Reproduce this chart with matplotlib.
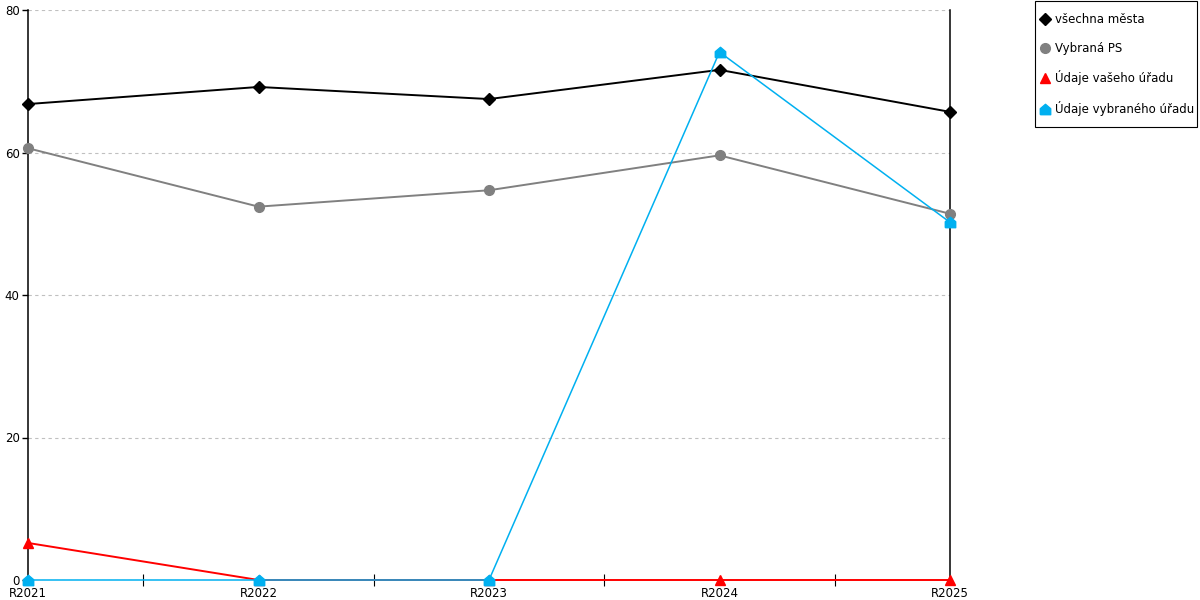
import numpy as np
import matplotlib
matplotlib.use("Agg")
import matplotlib.pyplot as plt
from matplotlib.lines import Line2D
from matplotlib.patches import Rectangle

# ---------------------------------------------------------------- data
years = ["R2021", "R2022", "R2023", "R2024", "R2025"]
vsechna_mesta = [66.8, 69.2, 67.5, 71.6, 65.7]
vybrana_ps = [60.6, 52.4, 54.7, 59.6, 51.4]
udaje_vaseho = [5.2, 0, 0, 0, 0]
udaje_vybraneho = [0, 0, 0, 74.1, 50.2]

labels = ["všechna města", "Vybraná PS", "Údaje vašeho úřadu", "Údaje vybraného úřadu"]

# house-shaped marker for the last series
HOUSE = [(-1, -1), (1, -1), (1, 0.15), (0, 1), (-1, 0.15), (-1, -1)]

plt.rcParams["font.family"] = ["DejaVu Sans"]
plt.rcParams["font.size"] = 8.5

W, H = 1200, 600
fig = plt.figure(figsize=(12, 6), dpi=100)
ax = fig.add_axes([28 / W, 20 / H, 922 / W, 570 / H])

x = np.arange(len(years))
styles = [
    (vsechna_mesta, "#000000", "D", 6.0, 1.4),
    (vybrana_ps, "#808080", "o", 7.0, 1.4),
    (udaje_vaseho, "#ff0000", "^", 7.5, 1.4),
    (udaje_vybraneho, "#00b0f0", HOUSE, 7.5, 1.1),
]
handles = []
for (vals, col, mk, ms, lw), lab in zip(styles, labels):
    ax.plot(x, vals, color=col, lw=lw, marker=mk, ms=ms, mec=col, mfc=col,
            clip_on=False, zorder=3)
    handles.append(Line2D([], [], ls="none", marker=mk, color=col, ms=ms, label=lab))

ax.set_xlim(0, len(years) - 1)
ax.set_ylim(0, 80)
ax.set_yticks([0, 20, 40, 60, 80])
ax.set_xticks(x)
ax.set_xticklabels(years)
ax.set_xticks(x[:-1] + 0.5, minor=True)
ax.tick_params(axis="x", which="major", length=0, pad=5)
ax.tick_params(axis="x", which="minor", length=8, direction="inout", width=0.8)
ax.tick_params(axis="y", length=4, width=1, pad=2)
ax.yaxis.grid(True, ls=(0, (3, 3)), color="#c0c0c0", lw=0.8)
ax.set_axisbelow(True)

for s in ["top", "bottom"]:
    ax.spines[s].set_visible(False)
ax.spines["left"].set_linewidth(1.1)
ax.spines["right"].set_linewidth(1.1)

# legend box (frame drawn separately to get the padding of the original)
fig.patches.append(Rectangle((1034.5 / W, 1 - 126.5 / H), 162 / W, 126 / H,
                             transform=fig.transFigure, fill=False,
                             edgecolor="black", lw=0.8))
fig.legend(handles=handles, loc="upper left", bbox_to_anchor=(1040 / W, 1 - 13 / H),
           frameon=False, fontsize=8.5, labelspacing=1.33, handlelength=0.8,
           handletextpad=0.5, borderpad=0, borderaxespad=0)

fig.savefig("out.png", dpi=100)
